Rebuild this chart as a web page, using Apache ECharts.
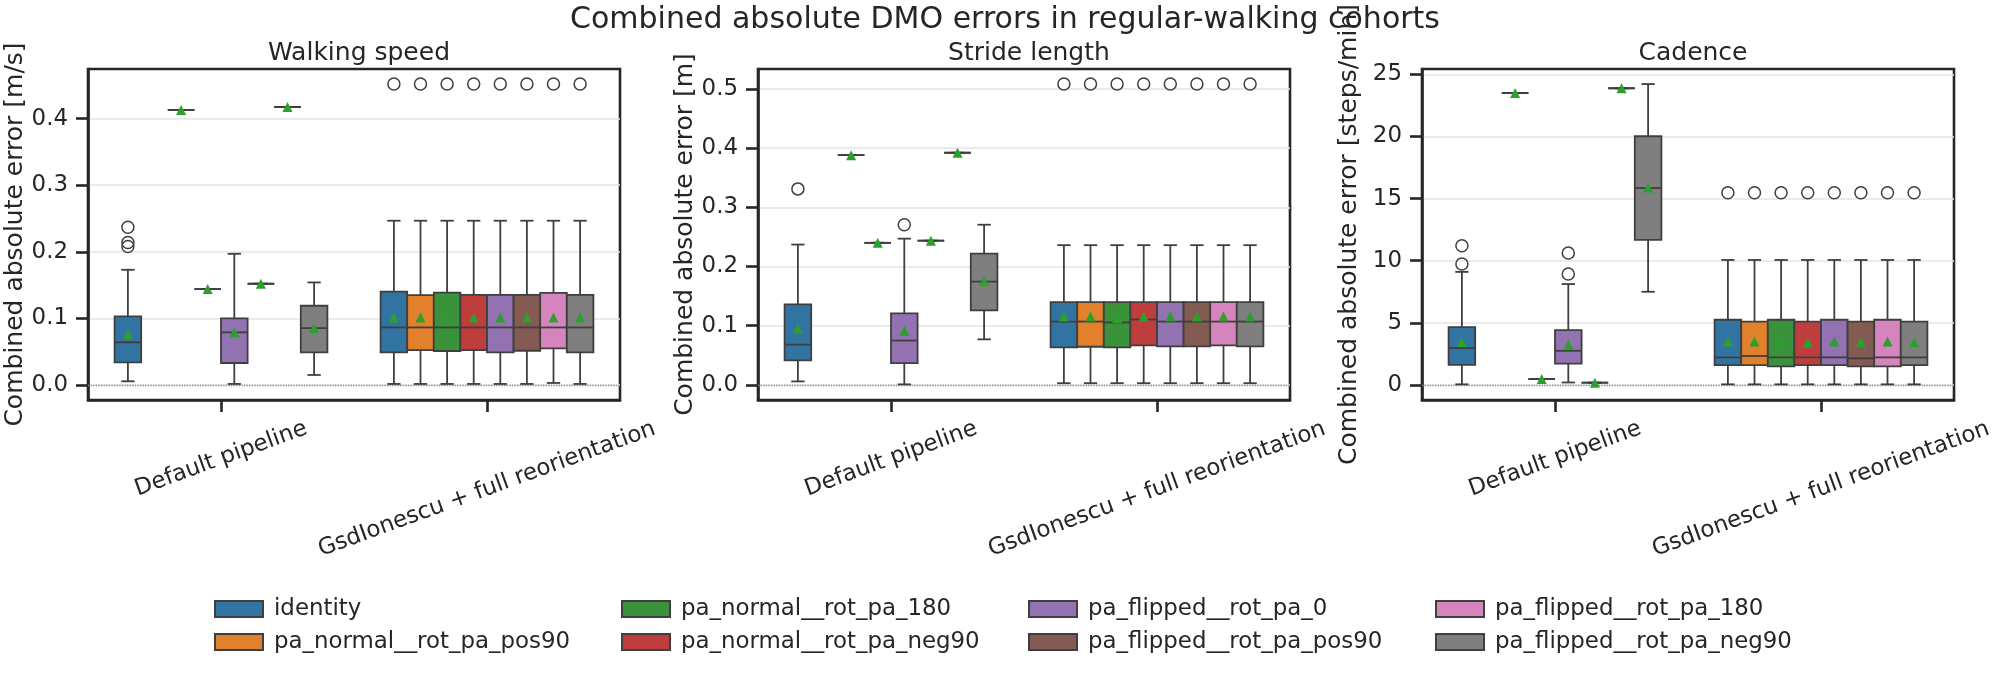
<!DOCTYPE html>
<html>
<head>
<meta charset="utf-8">
<script src="https://cdn.jsdelivr.net/npm/echarts@6/dist/echarts.min.js"></script>
<style>
  html, body { margin: 0; background: #fff; }
  #main { width: 2000px; height: 700px; }
</style>
</head>
<body>
<div id="main"></div>
<script>
// categories on the x axis and the hue levels (one box per hue)
const categories = ['Default pipeline', 'GsdIonescu + full reorientation'];
const hues = [
  'identity', 'pa_normal__rot_pa_pos90', 'pa_normal__rot_pa_180', 'pa_normal__rot_pa_neg90',
  'pa_flipped__rot_pa_0', 'pa_flipped__rot_pa_pos90', 'pa_flipped__rot_pa_180', 'pa_flipped__rot_pa_neg90'
];

// box stats per hue: [low whisker, q1, median, q3, high whisker, mean]; null = no data
const speedDefault = [
  [0.0055, 0.034, 0.064, 0.103, 0.173, 0.076],
  null,
  [0.413, 0.413, 0.413, 0.413, 0.413, 0.413],
  [0.144, 0.144, 0.144, 0.144, 0.144, 0.144],
  [0.0015, 0.033, 0.079, 0.100, 0.197, 0.079],
  [0.152, 0.152, 0.152, 0.152, 0.152, 0.152],
  [0.4175, 0.4175, 0.4175, 0.4175, 0.4175, 0.4175],
  [0.015, 0.049, 0.0854, 0.119, 0.154, 0.085]
];
const speedGsd = [
  [0.0015, 0.049, 0.0864, 0.1403, 0.2467, 0.1014],
  [0.0015, 0.0524, 0.0864, 0.1348, 0.2467, 0.1014],
  [0.0015, 0.051, 0.0864, 0.1388, 0.2467, 0.1014],
  [0.0015, 0.0524, 0.0864, 0.1353, 0.2467, 0.1014],
  [0.0015, 0.049, 0.0864, 0.1353, 0.2467, 0.1014],
  [0.0015, 0.0514, 0.0864, 0.1353, 0.2467, 0.1014],
  [0.003, 0.0549, 0.0864, 0.1383, 0.2467, 0.1014],
  [0.0015, 0.049, 0.0864, 0.1353, 0.2467, 0.1014]
];
const speedOutDefault = [[0.237, 0.214, 0.208], [], [], [], [], [], [], []];
const speedOutGsd = [[0.452], [0.452], [0.452], [0.452], [0.452], [0.452], [0.452], [0.452]];

const strideDefault = [
  [0.006, 0.0415, 0.068, 0.136, 0.237, 0.095],
  null,
  [0.388, 0.388, 0.388, 0.388, 0.388, 0.388],
  [0.240, 0.240, 0.240, 0.240, 0.240, 0.240],
  [0.001, 0.037, 0.075, 0.121, 0.247, 0.0915],
  [0.2435, 0.2435, 0.2435, 0.2435, 0.2435, 0.2435],
  [0.392, 0.392, 0.392, 0.392, 0.392, 0.392],
  [0.077, 0.126, 0.1745, 0.2217, 0.2705, 0.175]
];
const strideGsd = [
  [0.003, 0.0634, 0.107, 0.140, 0.236, 0.1156],
  [0.003, 0.0645, 0.107, 0.140, 0.236, 0.1156],
  [0.003, 0.0634, 0.1055, 0.140, 0.236, 0.113],
  [0.003, 0.0668, 0.1105, 0.140, 0.236, 0.1156],
  [0.003, 0.065, 0.107, 0.140, 0.236, 0.1156],
  [0.003, 0.065, 0.107, 0.140, 0.236, 0.1156],
  [0.003, 0.0668, 0.107, 0.140, 0.236, 0.1156],
  [0.003, 0.065, 0.107, 0.140, 0.236, 0.1156]
];
const strideOutDefault = [[0.331], [], [], [], [0.2705], [], [], []];
const strideOutGsd = [[0.508], [0.508], [0.508], [0.508], [0.508], [0.508], [0.508], [0.508]];

const cadenceDefault = [
  [0.05, 1.62, 2.97, 4.66, 9.1, 3.45],
  null,
  [23.5, 23.5, 23.5, 23.5, 23.5, 23.5],
  [0.48, 0.48, 0.48, 0.48, 0.48, 0.48],
  [0.2, 1.72, 2.75, 4.41, 8.12, 3.25],
  [0.18, 0.18, 0.18, 0.18, 0.18, 0.18],
  [23.88, 23.88, 23.88, 23.88, 23.88, 23.88],
  [7.5, 11.67, 15.85, 20.02, 24.22, 15.9]
];
const cadenceGsd = [
  [0.05, 1.6, 2.22, 5.25, 10.06, 3.5],
  [0.05, 1.6, 2.33, 5.09, 10.06, 3.5],
  [0.05, 1.5, 2.22, 5.25, 10.06, 3.5],
  [0.05, 1.6, 2.22, 5.09, 10.06, 3.43],
  [0.05, 1.6, 2.22, 5.25, 10.06, 3.5],
  [0.05, 1.5, 2.14, 5.09, 10.06, 3.43],
  [0.05, 1.5, 2.22, 5.25, 10.06, 3.5],
  [0.05, 1.6, 2.22, 5.09, 10.06, 3.43]
];
const cadenceOutDefault = [[9.73, 11.2], [], [], [], [8.93, 10.62], [], [], []];
const cadenceOutGsd = [[15.47], [15.47], [15.47], [15.47], [15.47], [15.47], [15.47], [15.47]];

// tick labels
const speedTicks = ['0.0', '0.1', '0.2', '0.3', '0.4'];
const strideTicks = ['0.0', '0.1', '0.2', '0.3', '0.4', '0.5'];
const cadenceTicks = ['0', '5', '10', '15', '20', '25'];

const panels = [
  { title: 'Walking speed', yName: 'Combined absolute error [m/s]', def: speedDefault, gsd: speedGsd,
    outDef: speedOutDefault, outGsd: speedOutGsd, ticks: speedTicks },
  { title: 'Stride length', yName: 'Combined absolute error [m]', def: strideDefault, gsd: strideGsd,
    outDef: strideOutDefault, outGsd: strideOutGsd, ticks: strideTicks },
  { title: 'Cadence', yName: 'Combined absolute error [steps/min]', def: cadenceDefault, gsd: cadenceGsd,
    outDef: cadenceOutDefault, outGsd: cadenceOutGsd, ticks: cadenceTicks }
];

const palette = ['#3274a1', '#e1812c', '#3a923a', '#c03d3e', '#9372b2', '#845b53', '#d684bd', '#7f7f7f'];
const LINE = '#3f3f3f';
const TEXT = '#262626';
const FONT = 'DejaVu Sans';
const gridLefts = [88, 758, 1422];
const GRID_TOP = 69, GRID_W = 532, GRID_H = 331;

function boxRenderer(h, outLists) {
  return function (params, api) {
    const cat = api.value(0);
    const slot = api.size([1, 0])[0] * 0.8 / hues.length;
    const cx = api.coord([cat, 0])[0] + (h - (hues.length - 1) / 2) * slot;
    const py = v => api.coord([cat, v])[1];
    const lo = py(api.value(1)), q1 = py(api.value(2)), md = py(api.value(3)),
          q3 = py(api.value(4)), hi = py(api.value(5)), mn = py(api.value(6));
    const half = slot / 2, cap = slot / 4;
    const ls = { stroke: LINE, lineWidth: 1.8 };
    const children = [
      { type: 'line', shape: { x1: cx, y1: q3, x2: cx, y2: hi }, style: ls },
      { type: 'line', shape: { x1: cx, y1: q1, x2: cx, y2: lo }, style: ls },
      { type: 'line', shape: { x1: cx - cap, y1: hi, x2: cx + cap, y2: hi }, style: ls },
      { type: 'line', shape: { x1: cx - cap, y1: lo, x2: cx + cap, y2: lo }, style: ls },
      { type: 'rect', shape: { x: cx - half, y: q3, width: slot, height: Math.max(q1 - q3, 0) },
        style: { fill: api.visual('color'), stroke: LINE, lineWidth: 1.8 } },
      { type: 'line', shape: { x1: cx - half, y1: md, x2: cx + half, y2: md }, style: ls }
    ];
    (outLists[cat][h] || []).forEach(v => {
      children.push({ type: 'circle', shape: { cx: cx, cy: py(v), r: 6 },
        style: { fill: 'none', stroke: LINE, lineWidth: 1.5 } });
    });
    children.push({ type: 'polygon',
      shape: { points: [[cx, mn - 5], [cx - 5, mn + 5], [cx + 5, mn + 5]] },
      style: { fill: '#2ca02c' } });
    return { type: 'group', children: children };
  };
}

const grids = [], xAxes = [], yAxes = [], series = [], titles = [];

titles.push({
  text: 'Combined absolute DMO errors in regular-walking cohorts',
  left: 1000, top: 0, textAlign: 'center',
  textStyle: { fontSize: 30, fontWeight: 'normal', color: TEXT, fontFamily: FONT }
});

panels.forEach((p, pi) => {
  grids.push({ left: gridLefts[pi], top: GRID_TOP, width: GRID_W, height: GRID_H,
    show: true, borderColor: TEXT, borderWidth: 2.6, backgroundColor: 'transparent',
    containLabel: false, outerBoundsMode: 'none' });
  titles.push({ text: p.title, left: gridLefts[pi] + GRID_W / 2, top: 36, textAlign: 'center',
    textStyle: { fontSize: 25, fontWeight: 'normal', color: TEXT, fontFamily: FONT } });

  xAxes.push({
    type: 'category', gridIndex: pi, data: categories, boundaryGap: true, position: 'bottom',
    axisLine: { show: true, onZero: false, lineStyle: { color: TEXT, width: 2.6 } },
    axisTick: { show: true, inside: false, alignWithLabel: true, length: 12,
      lineStyle: { color: TEXT, width: 2.6 } },
    splitLine: { show: false },
    axisLabel: {
      interval: 0, hideOverlap: false, rotate: 20, margin: 59, align: 'center', verticalAlign: 'middle',
      fontSize: 22.9, color: TEXT, fontFamily: FONT,
      formatter: (v, i) => i === 1 ? '{g|' + v + '}' : v,
      rich: { g: { fontSize: 22.9, color: TEXT, fontFamily: FONT, padding: [57, 21, 0, 0] } }
    }
  });

  // axis range: data extent plus 5% margins
  const all = [];
  p.def.concat(p.gsd).forEach(s => { if (s) all.push(...s); });
  p.outDef.concat(p.outGsd).forEach(o => all.push(...o));
  const lo = Math.min(0, ...all), hi = Math.max(...all);
  const pad = (hi - lo) * 0.05;
  const tickVals = p.ticks.map(Number);

  yAxes.push({
    type: 'value', gridIndex: pi, min: lo - pad, max: hi + pad, position: 'left',
    name: p.yName, nameLocation: 'middle', nameRotate: 90, nameGap: 60,
    nameTextStyle: { fontSize: 25, color: TEXT, fontFamily: FONT },
    axisLine: { show: true, onZero: false, lineStyle: { color: TEXT, width: 2.6 } },
    axisTick: { show: true, inside: false, length: 12, lineStyle: { color: TEXT, width: 2.6 },
      customValues: tickVals },
    axisLabel: { customValues: tickVals, margin: 20, fontSize: 22.9, color: TEXT, fontFamily: FONT,
      formatter: v => p.ticks[tickVals.indexOf(v)] },
    splitLine: { show: true, lineStyle: { color: '#e5e5e5', width: 1.5 } }
  });

  const outLists = [p.outDef, p.outGsd];
  hues.forEach((name, h) => {
    const data = [];
    if (p.def[h]) data.push([0].concat(p.def[h]));
    if (p.gsd[h]) data.push([1].concat(p.gsd[h]));
    const s = {
      type: 'custom', name: name, xAxisIndex: pi, yAxisIndex: pi,
      itemStyle: { color: palette[h] },
      encode: { x: 0, y: [1, 2, 3, 4, 5, 6] },
      renderItem: boxRenderer(h, outLists),
      data: data, z: 3
    };
    if (h === 0) {
      s.markLine = { silent: true, z: 2, symbol: ['none', 'none'], label: { show: false },
        lineStyle: { type: 'dotted', color: '#8a8a8a', width: 1.3 },
        emphasis: { disabled: true }, data: [{ yAxis: 0 }] };
    }
    series.push(s);
  });
});

const legendCols = [[0, 1], [2, 3], [4, 5], [6, 7]];
const legendLefts = [209, 616, 1023, 1430];
const legends = legendCols.map((col, ci) => ({
  orient: 'vertical', left: legendLefts[ci], top: 592.5,
  itemWidth: 48, itemHeight: 16, itemGap: 10, selectedMode: false,
  data: col.map(h => ({ name: hues[h], icon: 'rect' })),
  itemStyle: { borderColor: LINE, borderWidth: 2 },
  textStyle: { fontSize: 22.9, color: TEXT, fontFamily: FONT, lineHeight: 23, padding: [0, 0, 0, 6] }
}));

const chart = echarts.init(document.getElementById('main'), null, { renderer: 'canvas' });
chart.setOption({
  backgroundColor: '#fff',
  animation: false,
  title: titles,
  legend: legends,
  grid: grids,
  xAxis: xAxes,
  yAxis: yAxes,
  series: series
});
</script>
</body>
</html>
